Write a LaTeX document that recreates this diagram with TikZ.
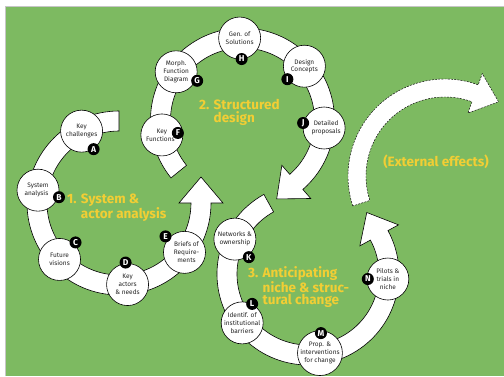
\documentclass[tikz,border=0pt]{standalone}
\usepackage{fontspec}
\setmainfont{Fira Sans}
\usetikzlibrary{calc}

\definecolor{leaf}{RGB}{125,186,97}
\definecolor{mustard}{RGB}{242,206,52}

\def\bandw{10}
\def\headw{22}
\def\headl{26}

% ring arrow: [style] centre, start angle, end angle, radius, turn (90 ccw, -90 cw)
\newcommand{\ringarrow}[6][]{%
  \draw[band,#1] ($(#2)+(#3:{#5+\bandw})$)
      arc[start angle=#3, end angle=#4, radius={#5+\bandw}]
      -- ($(#2)+(#4:{#5+\headw})$)
      -- ($(#2)+(#4:#5)+({#4+(#6)}:\headl)$)
      -- ($(#2)+(#4:{#5-\headw})$)
      -- ($(#2)+(#4:{#5-\bandw})$)
      arc[start angle=#4, end angle=#3, radius={#5-\bandw}]
      -- cycle;}

\begin{document}
\begin{tikzpicture}[
    x=1pt,y=1pt,
    band/.style={fill=white,draw=black,line width=0.6pt,line join=miter},
    stage/.style={circle,draw=black,fill=white,line width=0.6pt,minimum size=42pt,
        inner sep=0pt,align=center,text=black!85,font=\fontsize{6.5}{7.9}\selectfont},
    badge/.style={circle,fill=black,text=white,minimum size=12pt,inner sep=0pt,
        font=\fontsize{8.5}{8.5}\selectfont\bfseries},
    title/.style={text=mustard,inner sep=0pt,align=left,
        font=\fontsize{13.5}{12.8}\selectfont\bfseries},
]
\useasboundingbox (0,0) rectangle (504,376);
\fill[white] (0,0) rectangle (504,376);
\fill[leaf] (6,0) rectangle (504,369);
\draw[gray!45,line width=0.8pt] (5.5,0) -- (5.5,369.5) -- (504,369.5);

% ring centres
\coordinate (r1) at (119,173);
\coordinate (r2) at (242.5,256);
\coordinate (r3) at (308,102);
\coordinate (rx) at (445,200);

%% Bands
\ringarrow{r1}{90}{360}{82}{90}
\ringarrow{r2}{219}{-49}{82}{-90}
\ringarrow{r3}{119}{388.5}{81}{90}
{\def\bandw{9}\def\headw{21}\def\headl{25}
 \ringarrow[dash pattern=on 2pt off 1.2pt,line width=0.45pt]{rx}{198}{70}{88}{-90}}

%% 1. System & actor analysis
\node[stage] (A) at ($(r1)+(117.5:81)$) {Key\\challenges};
\node[stage] (B) at ($(r1)+(171:82)$) {System\\analysis\hspace*{3pt}};
\node[stage] (C) at ($(r1)+(223.5:82)$) {Future\\visions};
\node[stage] (D) at ($(r1)+(276:82)$) {Key\\actors\\\& needs};
\node[stage] (E) at ($(r1)+(323:82)$) {\hspace*{4pt}Briefs of\\\hspace*{4pt}Require-\\\hspace*{4pt}ments};

%% 2. Structured design
\node[stage] (F) at ($(r2)+(190.5:82)$) {Key\\Functions\hspace*{3pt}};
\node[stage] (G) at ($(r2)+(144:82)$) {Morph.\\Function\\Diagram};
\node[stage] (H) at ($(r2)+(92:82)$) {Gen. of\\Solutions};
\node[stage] (I) at ($(r2)+(41:82)$) {Design\\Concepts};
\node[stage] (J) at ($(r2)+(-5.6:82)$) {\hspace*{4pt}Detailed\\\hspace*{4pt}proposals};

%% 3. Anticipating niche & structural change
\node[stage] (K) at ($(r3)+(154.5:81)$) {Networks \&\\ownership};
\node[stage] (L) at ($(r3)+(216.6:82)$) {Identif. of\\institutional\\barriers};
\node[stage] (M) at ($(r3)+(278.6:80)$) {Prop. \&\\interventions\\for change};
\node[stage] (N) at ($(r3)+(356.4:80)$) {Pilots \&\\trials in\\niche};

%% Letters
\node[badge] (bA) at ($(A)+(12,-18)$) {A};
\node[badge] (bB) at ($(B)+(21,-7)$) {B};
\node[badge] (bC) at ($(C)+(16,17)$) {C};
\node[badge] (bD) at ($(D)+(-2,22)$) {D};
\node[badge] (bE) at ($(E)+(-19,16)$) {E};
\node[badge] (bF) at ($(F)+(16,2)$) {F};
\node[badge] (bG) at ($(G)+(21,-9)$) {G};
\node[badge] (bH) at ($(H)+(2,-21)$) {H};
\node[badge] (bI) at ($(I)+(-17,-13)$) {I};
\node[badge] (bJ) at ($(J)+(-21,5)$) {J};
\node[badge] (bK) at ($(K)+(14,-18)$) {K};
\node[badge] (bL) at ($(L)+(10,19)$) {L};
\node[badge] (bM) at ($(M)+(1,20)$) {M};
\node[badge] (bN) at ($(N)+(-20,0)$) {N};

%% Titles
\node[title,anchor=north west] (t1) at (67,182)
    {1. System \&\\\phantom{1. }actor analysis};
\node[title,anchor=north west] (t2) at (199,277)
    {2. Structured\\\phantom{2. }design};
\node[title,anchor=north west] (t3) at (248,110)
    {3. Anticipating\\\phantom{3. }niche \& struc-\\\phantom{3. }tural change};
\node[title] (tx) at (436,214) {(External effects)};

\end{tikzpicture}
\end{document}
